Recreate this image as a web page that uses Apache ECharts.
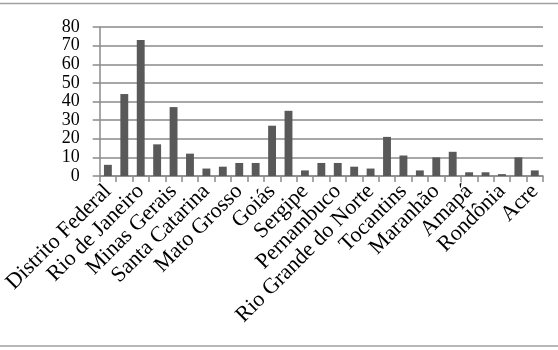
<!DOCTYPE html>
<html>
<head>
<meta charset="utf-8">
<script src="https://cdn.jsdelivr.net/npm/echarts@6/dist/echarts.min.js"></script>
<style>html,body{margin:0;padding:0;background:#fff;}#c{width:558px;height:350px;}</style>
</head>
<body>
<div id="c"></div>
<script>
var categories = ['Distrito Federal','São Paulo','Rio de Janeiro','Espírito Santo','Minas Gerais','Paraná','Santa Catarina','Rio Grande do Sul','Mato Grosso','Mato Grosso do Sul','Goiás','Bahia','Sergipe','Alagoas','Pernambuco','Paraíba','Rio Grande do Norte','Ceará','Tocantins','Piauí','Maranhão','Pará','Amapá','Amazonas','Rondônia','Roraima','Acre'];
var values = [6,44,73,17,37,12,4,5,7,7,27,35,3,7,7,5,4,21,11,3,10,13,2,2,1,10,3];
var yTicks = [0,10,20,30,40,50,60,70,80];

var chart = echarts.init(document.getElementById('c'), null, {renderer:'canvas'});
var font = 'Liberation Serif';
chart.setOption({
  animation:false,
  backgroundColor:'#fff',
  grid:{left:95,right:15,top:27,bottom:174},
  xAxis:{
    type:'category',
    data:categories,
    axisLine:{show:true,lineStyle:{color:'#8a8a8a',width:1.5}},
    axisTick:{show:true,interval:0,length:6,lineStyle:{color:'#8a8a8a',width:1.5}},
    axisLabel:{interval:1,rotate:45,fontFamily:font,fontSize:22,color:'#000',margin:12}
  },
  yAxis:{
    type:'value',
    min:yTicks[0],max:yTicks[yTicks.length-1],interval:10,
    axisLine:{show:true,lineStyle:{color:'#8a8a8a',width:1.5}},
    axisTick:{show:true,length:7,lineStyle:{color:'#8a8a8a',width:1.5}},
    splitLine:{show:true,lineStyle:{color:'#8a8a8a',width:1.5}},
    axisLabel:{fontFamily:font,fontSize:18,color:'#000',margin:20,showMinLabel:true,showMaxLabel:true,hideOverlap:false}
  },
  series:[{
    type:'bar',
    data:values,
    barWidth:'48%',
    itemStyle:{color:'#595959'}
  }],
  graphic:[
    {type:'line',shape:{x1:0,y1:3.5,x2:558,y2:3.5},style:{stroke:'#a0a0a0',lineWidth:1.5}},
    {type:'line',shape:{x1:0,y1:346,x2:558,y2:346},style:{stroke:'#a0a0a0',lineWidth:1.5}}
  ]
});
</script>
</body>
</html>
